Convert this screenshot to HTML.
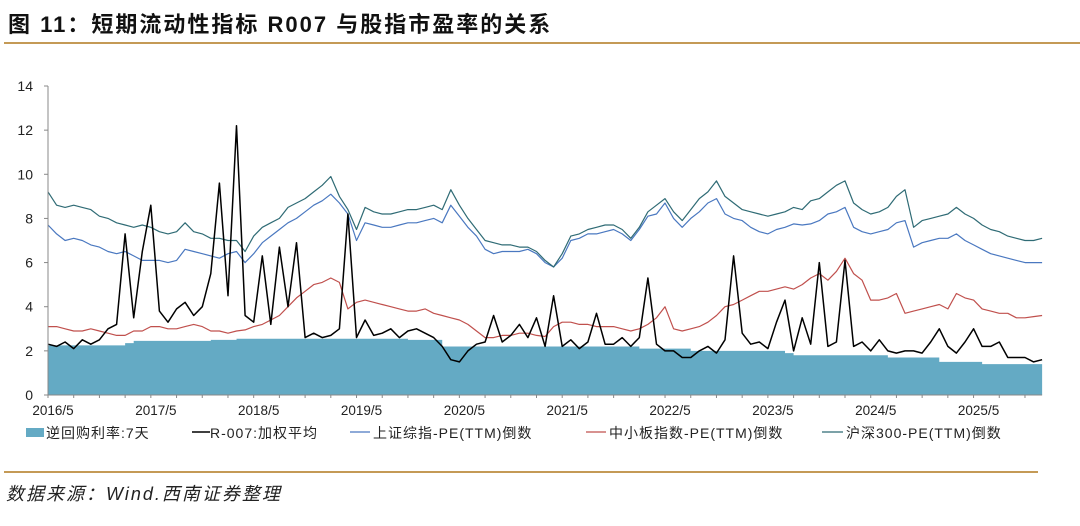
<!DOCTYPE html>
<html><head><meta charset="utf-8">
<style>
body{margin:0;background:#fff;width:1080px;height:521px;overflow:hidden;font-family:"Liberation Sans","Noto Sans CJK SC",sans-serif;}
</style></head>
<body>
<svg id="chart" width="1080" height="521" viewBox="0 0 1080 521">
<text x="8" y="32" font-size="22" font-weight="bold" fill="#111" letter-spacing="2" font-family="Liberation Sans, Noto Sans CJK SC, sans-serif">图 11：短期流动性指标 R007 与股指市盈率的关系</text>
<rect x="4" y="42" width="1076" height="2" fill="#c49a56"/>
<rect x="4" y="471" width="1034" height="2" fill="#c49a56"/>
<text x="6" y="500" font-size="18" font-style="italic" fill="#222" letter-spacing="2" font-family="Liberation Sans, Noto Sans CJK SC, sans-serif">数据来源：Wind.西南证券整理</text>
<g id="plot"></g>
<g id="legend" font-size="14" font-family="Liberation Sans, Noto Sans CJK SC, sans-serif" fill="#222" letter-spacing="1">
<rect x="26" y="428" width="18" height="9" fill="#64aac4"/>
<text x="46" y="438">逆回购利率:7天</text>
<line x1="192" y1="432" x2="210" y2="432" stroke="#000" stroke-width="1.5"/>
<text x="210" y="438">R-007:加权平均</text>
<line x1="350" y1="432" x2="370" y2="432" stroke="#4a78c0" stroke-width="1.2"/>
<text x="373" y="438">上证综指-PE(TTM)倒数</text>
<line x1="586" y1="432" x2="606" y2="432" stroke="#c0504d" stroke-width="1.2"/>
<text x="609" y="438">中小板指数-PE(TTM)倒数</text>
<line x1="822" y1="432" x2="843" y2="432" stroke="#2f6b75" stroke-width="1.2"/>
<text x="846" y="438">沪深300-PE(TTM)倒数</text>
</g>
</svg>
<script>
const yTicks=[0,2,4,6,8,10,12,14];
const xTickLabels=["2016/5","2017/5","2018/5","2019/5","2020/5","2021/5","2022/5","2023/5","2024/5","2025/5"];
// monthly from 2016/5 to 2026/1 (117 points)
const r007=[2.3,2.2,2.4,2.1,2.5,2.3,2.5,3.0,
3.2,7.3,3.5,6.5,8.6,3.8,3.3,3.9,4.2,3.6,4.0,5.5,
9.6,4.5,12.2,3.6,3.3,6.3,3.2,6.7,4.0,6.9,2.6,2.8,
2.6,2.7,3.0,8.2,2.6,3.4,2.7,2.8,3.0,2.6,2.9,3.0,
2.8,2.6,2.2,1.6,1.5,2.0,2.3,2.4,3.6,2.4,2.7,3.2,
2.6,3.5,2.2,4.5,2.2,2.5,2.1,2.4,3.7,2.3,2.3,2.6,
2.2,2.6,5.3,2.3,2.0,2.0,1.7,1.7,2.0,2.2,1.9,2.5,
6.3,2.8,2.3,2.4,2.1,3.3,4.3,2.0,3.5,2.3,6.0,2.2,
2.4,6.1,2.2,2.4,2.0,2.5,2.0,1.9,2.0,2.0,1.9,2.4,
3.0,2.2,1.9,2.4,3.0,2.2,2.2,2.4,1.7,1.7,1.7,1.5,1.6];
const repoRate=[2.25,2.25,2.25,2.25,2.25,2.25,2.25,2.25,
2.25,2.35,2.45,2.45,2.45,2.45,2.45,2.45,2.45,2.45,2.45,2.5,
2.5,2.5,2.55,2.55,2.55,2.55,2.55,2.55,2.55,2.55,2.55,2.55,
2.55,2.55,2.55,2.55,2.55,2.55,2.55,2.55,2.55,2.55,2.5,2.5,
2.5,2.5,2.2,2.2,2.2,2.2,2.2,2.2,2.2,2.2,2.2,2.2,
2.2,2.2,2.2,2.2,2.2,2.2,2.2,2.2,2.2,2.2,2.2,2.2,
2.2,2.1,2.1,2.1,2.1,2.1,2.1,2.0,2.0,2.0,2.0,2.0,
2.0,2.0,2.0,2.0,2.0,2.0,1.9,1.8,1.8,1.8,1.8,1.8,
1.8,1.8,1.8,1.8,1.8,1.8,1.7,1.7,1.7,1.7,1.7,1.7,
1.5,1.5,1.5,1.5,1.5,1.4,1.4,1.4,1.4,1.4,1.4,1.4,1.4];
const ssePE=[7.7,7.3,7.0,7.1,7.0,6.8,6.7,6.5,
6.4,6.5,6.3,6.1,6.1,6.1,6.0,6.1,6.6,6.5,6.4,6.3,
6.2,6.4,6.5,6.0,6.4,6.9,7.2,7.5,7.8,8.0,8.3,8.6,
8.8,9.1,8.7,8.2,7.0,7.8,7.7,7.6,7.6,7.7,7.8,7.8,
7.9,8.0,7.8,8.6,8.1,7.6,7.2,6.6,6.4,6.5,6.5,6.5,
6.6,6.4,6.0,5.8,6.2,7.0,7.1,7.3,7.3,7.4,7.5,7.3,
7.0,7.5,8.1,8.2,8.7,8.0,7.6,8.0,8.3,8.7,8.9,8.2,
8.0,7.9,7.6,7.4,7.3,7.5,7.6,7.75,7.7,7.75,7.9,8.2,
8.3,8.5,7.6,7.4,7.3,7.4,7.5,7.8,7.9,6.7,6.9,7.0,
7.1,7.1,7.3,7.0,6.8,6.6,6.4,6.3,6.2,6.1,6.0,6.0,6.0];
const smePE=[3.1,3.1,3.0,2.9,2.9,3.0,2.9,2.8,
2.7,2.7,2.9,2.9,3.1,3.1,3.0,3.0,3.1,3.2,3.1,2.9,
2.9,2.8,2.9,2.95,3.1,3.2,3.4,3.6,4.0,4.4,4.7,5.0,
5.1,5.3,5.1,3.9,4.2,4.3,4.2,4.1,4.0,3.9,3.8,3.8,
3.9,3.7,3.6,3.5,3.4,3.2,2.9,2.6,2.6,2.7,2.7,2.8,
2.8,2.7,2.65,3.1,3.3,3.3,3.2,3.2,3.1,3.1,3.1,3.0,
2.9,3.0,3.2,3.5,4.0,3.0,2.9,3.0,3.1,3.3,3.6,4.0,
4.1,4.3,4.5,4.7,4.7,4.8,4.9,4.8,5.0,5.3,5.5,5.2,
5.6,6.2,5.5,5.2,4.3,4.3,4.4,4.6,3.7,3.8,3.9,4.0,
4.1,3.9,4.6,4.4,4.3,3.9,3.8,3.7,3.7,3.5,3.5,3.55,3.6];
const csi300PE=[9.2,8.6,8.5,8.6,8.5,8.4,8.1,8.0,
7.8,7.7,7.6,7.7,7.6,7.4,7.3,7.4,7.8,7.4,7.3,7.1,
7.1,7.0,7.0,6.5,7.2,7.6,7.8,8.0,8.5,8.7,8.9,9.2,
9.5,9.9,9.0,8.4,7.5,8.5,8.3,8.2,8.2,8.3,8.4,8.4,
8.5,8.6,8.4,9.3,8.6,8.0,7.5,7.0,6.9,6.8,6.8,6.7,
6.7,6.5,6.1,5.8,6.4,7.2,7.3,7.5,7.6,7.7,7.7,7.5,
7.1,7.6,8.3,8.6,8.9,8.3,7.9,8.4,8.9,9.2,9.7,9.0,
8.7,8.4,8.3,8.2,8.1,8.2,8.3,8.5,8.4,8.8,8.9,9.2,
9.5,9.7,8.7,8.4,8.2,8.3,8.5,9.0,9.3,7.6,7.9,8.0,
8.1,8.2,8.5,8.2,8.0,7.7,7.5,7.4,7.2,7.1,7.0,7.0,7.1];

const X0=48, MONTH=8.57, Y0=395, YPX=(395-86)/14;
const xs=i=>X0+i*MONTH;
const ys=v=>Y0-v*YPX;
const NS='http://www.w3.org/2000/svg';
const plot=document.getElementById('plot');
function mk(tag,attrs){const e=document.createElementNS(NS,tag);for(const k in attrs)e.setAttribute(k,attrs[k]);plot.appendChild(e);return e;}

// repo area (step)
const last=repoRate.length-1;
let d='M'+xs(0)+','+ys(0);
repoRate.forEach((v,i)=>{const xe=Math.min(xs(i)+MONTH,xs(last));d+=' L'+xs(i)+','+ys(v)+' L'+xe+','+ys(v);});
d+=' L'+xs(last)+','+ys(0)+' Z';
const area=mk('path',{d:d,fill:'#64aac4'});



function line(arr,color,w,name){
  const p=arr.map((v,i)=>(i?'L':'M')+xs(i).toFixed(1)+','+ys(v).toFixed(1)).join(' ');
  const e=mk('path',{d:p,fill:'none',stroke:color,'stroke-width':w,'stroke-linejoin':'round'});
  
  
}
line(smePE,'#c0504d',1.2,'sme-pe-line');
line(ssePE,'#4a78c0',1.2,'sse-pe-line');
line(csi300PE,'#2f6b75',1.2,'csi300-pe-line');
line(r007,'#000',1.5,'r007-line');

// axes
const ya=mk('line',{x1:X0,y1:86,x2:X0,y2:Y0,stroke:'#888','stroke-width':1});


const xa=mk('line',{x1:X0,y1:Y0,x2:xs(last),y2:Y0,stroke:'#888','stroke-width':1});


yTicks.forEach(v=>{
  const t=mk('text',{x:33,y:ys(v)+5,'text-anchor':'end','font-size':14,fill:'#222'});
  t.textContent=v;
  
  
  mk('line',{x1:X0-4,y1:ys(v),x2:X0,y2:ys(v),stroke:'#888'});
});
xTickLabels.forEach((s,k)=>{
  const t=mk('text',{x:xs(k*12)+5,y:415,'text-anchor':'middle','font-size':13.5,fill:'#222'});
  t.textContent=s;
  
  
});
for(let i=0;i<117;i+=3){mk('line',{x1:xs(i),y1:Y0,x2:xs(i),y2:Y0+3,stroke:'#888'});}
</script>
</body></html>
